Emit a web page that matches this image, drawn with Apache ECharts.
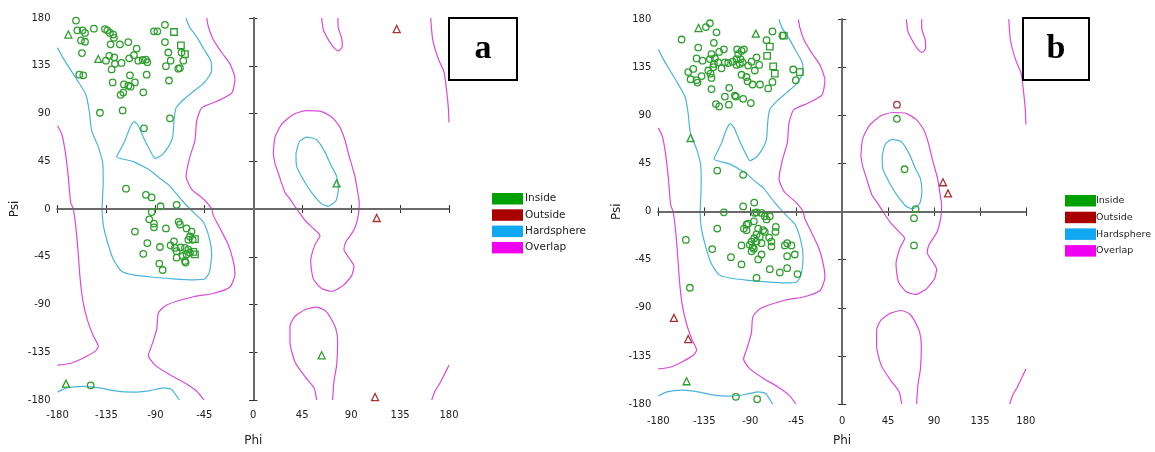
<!DOCTYPE html>
<html><head><meta charset="utf-8">
<script src="https://cdn.jsdelivr.net/npm/echarts@6/dist/echarts.min.js"></script>
<style>html,body{margin:0;padding:0;background:#fff}#c{width:1155px;height:452px}</style>
</head><body><div id="c"></div>
<script>
// ---- tick labels ----
const tickValues = [-180, -135, -90, -45, 0, 45, 90, 135, 180];
const legendNames = ['Inside', 'Outside', 'Hardsphere', 'Overlap'];
const panelLabels = ['a', 'b'];

// ---- contour lines (phi, psi) ----
const hardMain = [[-180,152],[-174.7,142],[-168.5,132],[-160.9,120],[-153.8,107.5],[-150.8,92.3],[-148.6,73.8],[-142.5,58.5],[-138.4,43],[-138,24.7],[-139,0],[-137.9,-15.2],[-134.2,-30.6],[-128.7,-47.4],[-121,-58.7],[-110.3,-62.1],[-91.9,-64.3],[-73.5,-65.8],[-55.1,-66.7],[-44.4,-65.8],[-40.4,-59.7],[-38.2,-42.8],[-40.4,-27.4],[-45.9,-12.2],[-52,-6],[-58,0],[-66,8.5],[-76.6,21.6],[-86,29],[-95,36.5],[-101.1,40],[-110.3,44.7],[-125.6,49.3],[-122.5,55.4],[-117.9,64.6],[-113.3,76.9],[-109.4,82.4],[-105.7,78.4],[-101.1,67.7],[-95,55.4],[-90.3,47.7],[-84.2,50.8],[-78.1,58.5],[-74.1,67.7],[-72.9,83],[-71,95.3],[-64.3,103],[-55.1,110.7],[-44.4,119.9],[-38.2,130.6],[-39.1,139.8],[-45.3,150.5],[-52,162.2],[-58.8,172],[-61.8,180]];
const hardBottom = [[-180,-172.6],[-171.5,-168.6],[-156.3,-167.1],[-140.9,-168.6],[-125.6,-171.7],[-110.3,-172.6],[-95,-171.1],[-82.7,-168.6],[-75,-170.1],[-70.4,-176.3],[-68,-180]];
const hardAlphaL = [[39.3,52.3],[42.3,63.1],[49.1,67.7],[58.3,65.2],[66,53.6],[71.2,41.6],[76.7,30.8],[78.2,18.6],[76.1,7.8],[69,2.6],[63,4.8],[53.7,15.5],[46,27.8],[39.9,40],[39.3,52.3]];
const overlapLeft = [[-180,78.4],[-176.1,70.7],[-173.1,55.4],[-170.1,30.8],[-167.9,6.3],[-165.5,0],[-163,-18.2],[-160.9,-42.8],[-159.3,-64.3],[-156.8,-85.8],[-152.6,-104.2],[-147.1,-119.5],[-142.5,-129.4],[-145.5,-134.2],[-156.3,-140.4],[-168.5,-145.6],[-180,-147.1]];
const overlapMain = [[-42.8,180],[-41.3,172],[-36.8,159.7],[-29,147.5],[-21.4,136.7],[-16.8,122.9],[-19.8,109.1],[-33.6,101.5],[-47.4,95.3],[-52,83],[-53.6,64.6],[-58.2,49.3],[-61.8,30.8],[-56.6,18.6],[-45.9,9.4],[-38.2,0.2],[-36.8,-6],[-30.6,-18.2],[-23,-33.6],[-18.4,-49],[-16.8,-61.2],[-21.4,-73.5],[-36.8,-79.6],[-55.1,-82.7],[-79.6,-90.4],[-87.3,-98],[-88.8,-113.4],[-93.4,-128.7],[-96.5,-137.9],[-90.3,-147.1],[-76.6,-156.3],[-62.8,-164],[-52,-171.7],[-45.3,-180]];
const overlapTop = [[62.9,180],[64.4,169],[68.1,161.3],[73,153.6],[78.2,149],[81.9,153],[81.3,161.3],[78.2,170.5],[77.9,180]];
const overlapBottom = [[58.3,-180],[55.9,-168.6],[47.6,-157.9],[38.4,-144.1],[33.8,-125.7],[33.8,-110.3],[38.4,-101.1],[47.6,-95],[57.7,-92.5],[66,-95.6],[71.2,-102.7],[76.1,-113.4],[77.6,-125.7],[76.7,-147.1],[74.2,-162.5],[73,-180]];
const overlapAlphaL = [[18.4,52.3],[20,67.7],[26.2,79.9],[36.8,89.1],[49.1,92.8],[61.4,92.3],[72.1,86.7],[79.8,76.9],[84.4,64.6],[88.3,49.3],[93.5,30.8],[96.6,12.4],[97.5,6.3],[96.6,-6],[92.6,-19.8],[85.3,-30.6],[83.4,-38.2],[89,-47.4],[92.6,-53.6],[90.5,-62.8],[82.8,-72],[72.1,-77.5],[62.9,-75],[55.2,-65.8],[52.8,-49],[56.8,-33.6],[61.4,-25],[56.8,-19.8],[47.6,-10.6],[39.9,0.2],[33.8,9.4],[29.2,15.5],[24,30.8],[20,43],[18.4,52.3]];
const overlapEdgeTop = [[163.2,180],[165,159.7],[170.2,141.3],[175.4,129.1],[177.9,110.7],[179.4,95.3],[180,81.5]];
const overlapEdgeBottom = [[180,-147.1],[176.3,-154.8],[171.7,-164],[167.1,-171.7],[164.1,-180]];

// ---- residues, panel a ----
const aInsideCircle = [[-163,177.6],[-161.8,168.4],[-156.9,168.4],[-154.7,165.9],[-146.5,169.9],[-158.4,158.9],[-154.7,157.6],[-157.5,146.9],[-160,126.6],[-156.3,126],[-136.4,169.6],[-134.2,168.4],[-131.8,165.9],[-128.7,164.4],[-128.1,161.3],[-131.2,155.2],[-122.6,155.2],[-114.9,157.3],[-107.2,151.2],[-135.4,139.8],[-132.4,144.4],[-127.8,142.9],[-127.2,136.8],[-130.2,131.5],[-121.1,137.7],[-114,142],[-109.7,145],[-105.7,139.8],[-101.7,140.4],[-98.7,140.7],[-97.4,138.3],[-113.4,126],[-98,126.6],[-129.3,119.3],[-118.9,117.4],[-114.9,116.2],[-112.8,115.3],[-108.8,119.3],[-122,107.6],[-119.5,109.7],[-101.1,110],[-141,90.7],[-120.1,92.9],[-100.5,76],[-76.6,85.5],[-91.3,167.4],[-88.2,167.4],[-81.2,173.6],[-81.2,157.3],[-78.1,147.5],[-76,139.8],[-80.3,134.6],[-77.5,121.1],[-65.9,147.5],[-64.3,139.8],[-68.9,132.2],[-67.4,132.8],[-117,19.2],[-98.7,13.4],[-93.4,10.9],[-85.2,2.6],[-70.5,3.9],[-93.4,-2.9],[-95.6,-9.7],[-91.3,-13.7],[-91.3,-17.3],[-108.8,-21.3],[-80.3,-18.3],[-68.6,-12.1],[-67.4,-14.6],[-61.3,-18.3],[-56.7,-21.3],[-58.2,-25.9],[-55.7,-29],[-59.7,-29],[-72.9,-30.5],[-76,-34.2],[-72,-36.7],[-70.5,-39.7],[-66.8,-36.1],[-62.8,-36.7],[-59.7,-38.2],[-58.2,-41.3],[-61.3,-42.8],[-64.9,-44.3],[-62.8,-48.9],[-62.2,-50.5],[-70.5,-45.9],[-85.8,-35.8],[-97.4,-32.1],[-101.1,-42.2],[-86.4,-51.4],[-83.3,-57.5],[-149.5,-166.2]];
const aInsideSquare = [[-72.9,166.8],[-66.5,154.2],[-62.8,145.9],[-53.6,-28.4],[-55.1,-40.4],[-53.6,-42.8]];
const aInsideTriangle = [[-170,164.4],[-142.5,141.4],[-172.2,-164.6],[76.7,24.1],[62.9,-137.9]];
const aOutsideTriangle = [[131.9,169.6],[113.5,-8.5],[112,-177.2]];

// ---- residues, panel b ----
const bInsideCircle = [[-133.4,172.7],[-129.5,176.3],[-123,167.8],[-157.2,161.1],[-125.6,158],[-140.9,153.5],[-142.5,143.4],[-136.7,141.3],[-150.7,130.6],[-145.8,133.6],[-148.4,123.9],[-142.5,123],[-141.6,120.8],[-137.6,126.9],[-131.1,132.1],[-128.8,129.1],[-127.9,125.1],[-129.5,142.8],[-127.9,147.4],[-124.6,143.4],[-125.6,138.2],[-121.3,139.7],[-126.2,135.2],[-120.4,149.5],[-115.8,151.9],[-118.1,134.2],[-114.8,139.7],[-111.6,139.1],[-107.3,140.3],[-103.4,142.8],[-101.8,147.4],[-102.8,151.9],[-98.5,150.4],[-96.2,151.9],[-99.5,142.8],[-97.5,139.7],[-100.1,138.2],[-103.4,137.3],[-92,136.7],[-88.7,140.3],[-83.8,144.3],[-81.2,137.3],[-85.5,132.1],[-98.5,128.1],[-93.6,126],[-92.6,122],[-87.7,119],[-80.4,119],[-68.2,121.4],[-72.4,115.3],[-127.9,114.7],[-110.6,115.9],[-114.8,107.7],[-105,108.6],[-104,107.7],[-96.9,105.6],[-89.4,101.6],[-123.6,100.7],[-120.4,98.5],[-110.9,100.1],[-68.2,168.7],[-74,160.5],[-58.4,164.7],[-47.9,133],[-45.3,123],[-122.3,38.4],[-96.9,34.5],[-115.8,-0.6],[-96.9,4.9],[-86.1,8.5],[-85.5,-1.2],[-83.8,-0.6],[-78.9,-1.2],[-75.7,-4.3],[-70.8,-4.3],[-74,-7.3],[-86.4,-9.1],[-92,-11.2],[-93.6,-12.2],[-96.2,-15.8],[-93.6,-17.3],[-82.2,-15.8],[-77.3,-17.3],[-75.7,-18.9],[-64.9,-14.3],[-65.2,-18.9],[-83.8,-21.3],[-80.6,-23.4],[-86.1,-24.9],[-88.7,-28],[-83.8,-28],[-78.9,-29.5],[-71.4,-24.3],[-69.2,-28],[-69.2,-32.5],[-90.4,-31],[-87.7,-33.4],[-86.4,-34.7],[-88.7,-37.1],[-98.5,-31.6],[-78.9,-40.1],[-82.2,-44.7],[-56.1,-31.6],[-53.8,-29.5],[-49.6,-31.6],[-53.8,-41.7],[-46.3,-40.1],[-70.8,-53.8],[-61,-56.9],[-53.8,-52.9],[-43.7,-58.4],[-83.8,-62],[-108.9,-42.6],[-98.5,-49.3],[-127.2,-35],[-122.3,-15.8],[-153,-26.5],[-149.1,-71.2],[-104,-173.3],[-83.2,-175.5],[53.7,86.9],[61.2,39.7],[72,2.4],[70.4,-6.1],[70.4,-31.6]];
const bInsideSquare = [[-70.8,154.4],[-73.4,145.8],[-67.5,136],[-65.9,129.1],[-57.1,164.7],[-41.4,130.6]];
const bInsideTriangle = [[-140.6,171.8],[-84.5,166.6],[-148.4,68.9],[-152.3,-158.7]];
const bOutsideCircle = [[53.7,100.1]];
const bOutsideTriangle = [[98.8,27.5],[103.7,17.1],[-164.7,-99.4],[-150.7,-119.2]];

// ---- styling ----
const C_IN = '#2e9e2e', C_OUT = '#a83232', C_HARD = '#4bb4dc', C_OVER = '#d94ad9';
const SW = {Inside:'#00a000', Outside:'#aa0000', Hardsphere:'#10a8f0', Overlap:'#f000f0'};
const FONT = 'DejaVu Sans';
const FRAME = '#6a6a6a';

const grids = [
  {left: 57.5, top: 18, width: 391.5, height: 391},
  {left: 658.3, top: 19.3, width: 367.6, height: 393.7}
];
const nameGapsX = [35, 31];
const nameGapsY = [37, 35];
const xLabelMargins = [10, 12];

const xAxes = [], yAxes = [];
grids.forEach((g, gi) => {
  const base = {type:'value', gridIndex: gi, min: tickValues[0], max: tickValues[tickValues.length-1], interval: tickValues[1]-tickValues[0], splitLine:{show:false}};
  const labY = {show:true, color:'#222', fontFamily: FONT, fontSize: 10, margin: 7};
  const labX = {show:true, color:'#222', fontFamily: FONT, fontSize: 10, margin: xLabelMargins[gi]};
  const tick = {show:true, length:4, lineStyle:{color:'#333', width:1}};
  const tickIn = {show:true, inside:true, length:4, lineStyle:{color:'#333', width:1}};
  const line = {show:true, lineStyle:{color:FRAME, width:2}};
  const nameStyle = {fontFamily:FONT, fontSize:12, color:'#222'};
  xAxes.push(Object.assign({}, base, {position:'bottom', name:'Phi', nameLocation:'middle', nameGap: nameGapsX[gi], nameTextStyle:nameStyle, axisLine:line, axisTick:tick, axisLabel: labX}));
  xAxes.push(Object.assign({}, base, {position:'bottom', axisLine:{show:false}, axisTick:tickIn, axisLabel:{show:false}}));
  xAxes.push(Object.assign({}, base, {position:'top', axisLine:line, axisTick:tick, axisLabel:{show:false}}));
  xAxes.push(Object.assign({}, base, {position:'top', axisLine:{show:false}, axisTick:tickIn, axisLabel:{show:false}}));
  yAxes.push(Object.assign({}, base, {position:'left', name:'Psi', nameLocation:'middle', nameGap: nameGapsY[gi], nameTextStyle:nameStyle, axisLine:line, axisTick:tick, axisLabel: labY}));
  yAxes.push(Object.assign({}, base, {position:'left', axisLine:{show:false}, axisTick:tickIn, axisLabel:{show:false}}));
  yAxes.push(Object.assign({}, base, {position:'right', axisLine:line, axisTick:tick, axisLabel:{show:false}}));
  yAxes.push(Object.assign({}, base, {position:'right', axisLine:{show:false}, axisTick:tickIn, axisLabel:{show:false}}));
});

const series = [];
function contour(gi, name, data, color, withZero) {
  const s = {type:'line', name, xAxisIndex: gi*4, yAxisIndex: gi*4, data, symbol:'none', showSymbol:false, smooth:0.2, silent:true, z:2, lineStyle:{color, width:1.2}, itemStyle:{color}};
  if (withZero) {
    s.markLine = {silent:true, symbol:['none','none'], label:{show:false}, lineStyle:{color:FRAME, width:2, type:'solid'}, data:[{xAxis:0},{yAxis:0}], animation:false};
  }
  series.push(s);
}
function pts(gi, name, data, symbol, color) {
  series.push({type:'scatter', name, xAxisIndex: gi*4, yAxisIndex: gi*4, data, symbol, symbolSize: symbol==='triangle' ? 7 : 6.5, z:5, silent:true,
    itemStyle:{color:'rgba(0,0,0,0)', borderColor: color, borderWidth: 1.3, opacity: 1}});
}
[0,1].forEach(gi => {
  contour(gi, 'Hardsphere', hardMain, C_HARD, true);
  contour(gi, 'Hardsphere', hardBottom, C_HARD);
  contour(gi, 'Hardsphere', hardAlphaL, C_HARD);
  contour(gi, 'Overlap', overlapLeft, C_OVER);
  contour(gi, 'Overlap', overlapMain, C_OVER);
  contour(gi, 'Overlap', overlapTop, C_OVER);
  contour(gi, 'Overlap', overlapBottom, C_OVER);
  contour(gi, 'Overlap', overlapAlphaL, C_OVER);
  contour(gi, 'Overlap', overlapEdgeTop, C_OVER);
  contour(gi, 'Overlap', overlapEdgeBottom, C_OVER);
});
pts(0, 'Inside', aInsideCircle, 'circle', C_IN);
pts(0, 'Inside', aInsideSquare, 'rect', C_IN);
pts(0, 'Inside', aInsideTriangle, 'triangle', C_IN);
pts(0, 'Outside', aOutsideTriangle, 'triangle', C_OUT);
pts(1, 'Inside', bInsideCircle, 'circle', C_IN);
pts(1, 'Inside', bInsideSquare, 'rect', C_IN);
pts(1, 'Inside', bInsideTriangle, 'triangle', C_IN);
pts(1, 'Outside', bOutsideCircle, 'circle', C_OUT);
pts(1, 'Outside', bOutsideTriangle, 'triangle', C_OUT);

const legendData = legendNames.map(n => ({name:n, icon:'rect', itemStyle:{color:SW[n], borderWidth:0, opacity:1}}));
function legendAt(left, top, fs, shift, gap) {
  return {left, top, padding:0, orient:'vertical', itemWidth:31, itemHeight:11.5, itemGap:gap, selectedMode:false, icon:'rect', data: legendData,
    textStyle:{fontFamily:FONT, fontSize:fs, color:'#222', lineHeight:11, padding:[0,0,0,shift]}};
}

const boxes = [{x:449, y:18, w:68, h:62}, {x:1023, y:18, w:66, h:62}];
const graphic = [];
boxes.forEach((b, i) => {
  graphic.push({type:'rect', z:100, shape:{x:b.x, y:b.y, width:b.w, height:b.h}, style:{fill:'#fff', stroke:'#000', lineWidth:2}});
  graphic.push({type:'text', z:101, x: b.x + b.w/2, y: b.y + b.h/2, style:{text: panelLabels[i], font:'bold 34px "Liberation Serif"', fill:'#000', align:'center', verticalAlign:'middle'}});
});

const chart = echarts.init(document.getElementById('c'), null, {renderer:'canvas'});
chart.setOption({
  animation:false,
  backgroundColor:'#fff',
  grid: grids,
  xAxis: xAxes,
  yAxis: yAxes,
  legend: [legendAt(492, 193, 10.5, -3, 4.8), legendAt(1065, 195, 9.5, -5, 5.2)],
  series,
  graphic
});
</script></body></html>
